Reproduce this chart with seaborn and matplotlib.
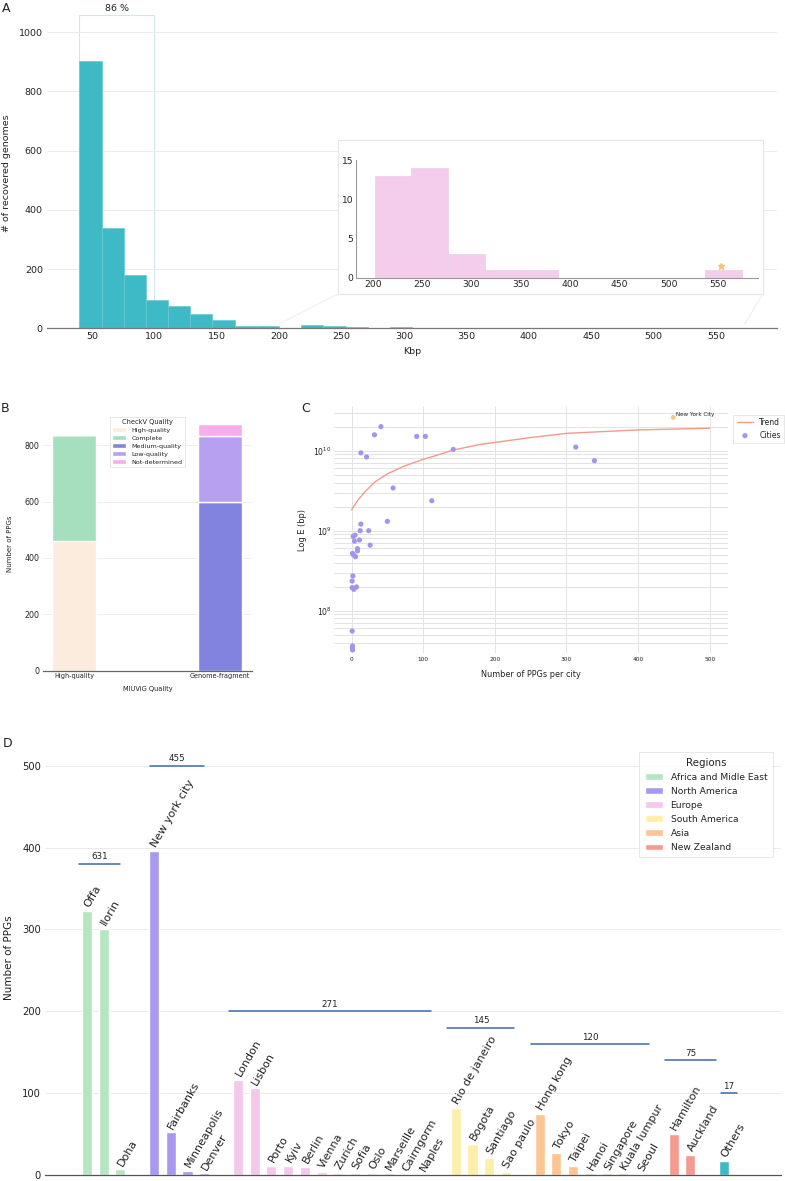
import numpy as np
import pandas as pd
import matplotlib
matplotlib.use("Agg")
import matplotlib.pyplot as plt
from matplotlib.patches import Patch, ConnectionPatch
from matplotlib.ticker import LogLocator, NullFormatter
import seaborn as sns

# ---------------- data ----------------
# A: length of recovered genomes (kbp), counts in 30 bins from shortest to longest
genome_kbp_min = 40
genome_kbp_max = 573
genome_bin_counts = [902, 339, 179, 96, 75, 47, 27, 9, 7, 2,
                     11, 8, 6, 0, 3, 1, 0, 1, 0, 0,
                     0, 0, 0, 0, 0, 0, 0, 0, 0, 1]
# inset: genomes above 200 kbp, 10 bins
large_kbp_min = 202
large_kbp_max = 574
large_bin_counts = [13, 14, 3, 1, 1, 0, 0, 0, 0, 1]
largest_genome_kbp = 553
largest_genome_mark = 1.5
share_range_kbp = [40, 100]
share_label = "86 %"

# B: MIUViG quality vs CheckV quality
miuvig_levels = ["High-quality", "Genome-fragment"]
checkv_levels = ["High-quality", "Complete", "Medium-quality", "Low-quality", "Not-determined"]
checkv_in_high_quality = [460, 378, 0, 0, 0]
checkv_in_fragment = [0, 0, 598, 236, 43]

# C: PPGs per city vs sequencing effort
city_ppgs = [41, 32, 91, 103, 13, 21, 142, 313, 339, 58, 112, 50, 13, 12, 24,
             5, 2.3, 11, 4, 26, 8.3, 8.3, 1.4, 2.8, 5.6, 1.9, 0.9, 0.9, 3.2,
             6.9, 0.9, 1.4, 1.4, 1.4]
city_bp = [2.0e10, 1.58e10, 1.51e10, 1.51e10, 9.4e9, 8.35e9, 1.04e10, 1.11e10,
           7.5e9, 3.42e9, 2.37e9, 1.31e9, 1.21e9, 1.0e9, 1.0e9, 8.8e8, 8.5e8,
           7.65e8, 7.4e8, 6.6e8, 5.96e8, 5.6e8, 5.2e8, 4.97e8, 4.73e8, 2.72e8,
           2.35e8, 1.94e8, 1.85e8, 1.98e8, 5.57e7, 3.62e7, 3.42e7, 3.23e7]
nyc_ppgs = 449
nyc_bp = 2.61e10
trend_ppgs = [0, 9, 19, 33, 51, 75, 100, 117, 142, 180, 250, 300, 400, 500]
trend_bp = [1.82e9, 2.42e9, 3.08e9, 4.1e9, 5.2e9, 6.5e9, 7.8e9, 8.66e9,
            1.02e10, 1.2e10, 1.46e10, 1.65e10, 1.82e10, 1.91e10]

# D: PPGs per city, grouped by region
region_names = ["Africa and Midle East", "North America", "Europe",
                "South America", "Asia", "New Zealand", "Others"]
region_cities = [
    ["Offa", "Ilorin", "Doha"],
    ["New york city", "Fairbanks", "Minneapolis", "Denver"],
    ["London", "Lisbon", "Porto", "Kyiv", "Berlin", "Vienna", "Zurich",
     "Sofia", "Oslo", "Marseille", "Cairngorm", "Naples"],
    ["Rio de janeiro", "Bogota", "Santiago", "Sao paulo"],
    ["Hong kong", "Tokyo", "Taipei", "Hanoi", "Singapore", "Kuala lumpur", "Seoul"],
    ["Hamilton", "Auckland"],
    ["Others"],
]
region_ppgs = [
    [323, 301, 7],
    [396, 52, 5, 2],
    [116, 106, 11, 11, 10, 4, 3, 3, 3, 2, 1, 1],
    [82, 38, 21, 4],
    [75, 27, 11, 2, 2, 2, 1],
    [50, 25],
    [17],
]

# ---------------- style ----------------
teal = "#3dbac6"
pink = "#f4cdec"
checkv_colors = ["#fbecdd", "#a6dfbd", "#8283de", "#b8a0f0", "#f7aeea"]
region_colors = ["#b4e6c2", "#a898ee", "#f4c7ec", "#fdeea8", "#fdc592", "#f49a8e", teal]
grid_c = "#ebebeb"
bracket_c = "#3b69ae"
# bracket level and span (bar slots) for each region total in D
bracket_level = [380, 500, 200, 180, 160, 140, 100]
bracket_span = [(-0.5, 2.0), (3.78, 7.0), (8.5, 20.5), (21.5, 25.5),
                (26.5, 33.5), (34.5, 37.5), (37.8, 38.8)]

sns.set_theme(style="white")
plt.rcParams["font.family"] = ["DejaVu Sans"]
plt.rcParams["text.color"] = "#222222"
plt.rcParams["axes.labelcolor"] = "#222222"
plt.rcParams["xtick.color"] = "#222222"
plt.rcParams["ytick.color"] = "#222222"

fig = plt.figure(figsize=(7.85, 11.81), dpi=100)


def clean(ax, spine_c="#777777"):
    for s in ["top", "right", "left"]:
        ax.spines[s].set_visible(False)
    ax.spines["bottom"].set_color(spine_c)
    ax.spines["bottom"].set_linewidth(0.9)
    ax.tick_params(length=0)
    ax.set_axisbelow(True)


def hist_bars(ax, lo, hi, counts, color, edge):
    # counts are already binned: draw them as adjacent bars over equal bins
    e = np.linspace(lo, hi, len(counts) + 1)
    ax.bar(e[:-1], counts, width=np.diff(e), align="edge", color=color,
           edgecolor=edge, linewidth=0.5)


# ---------------- A ----------------
axA = fig.add_axes([0.0599, 0.722, 0.930, 0.2632])
hist_bars(axA, genome_kbp_min, genome_kbp_max, genome_bin_counts, teal, "#67c8d1")
axA.set_xlim(14, 599)
axA.set_ylim(0, 1050)
axA.set_yticks([0, 200, 400, 600, 800, 1000])
axA.set_xticks(range(50, 551, 50))
axA.yaxis.grid(True, color=grid_c, lw=0.7)
clean(axA)
axA.tick_params(labelsize=6.8, pad=3)
axA.set_xlabel("Kbp", fontsize=6.8, labelpad=4)
axA.set_ylabel("# of recovered genomes", fontsize=6.8, labelpad=6)
lo, hi = share_range_kbp
axA.plot([lo, lo, hi, hi], [0, 1059, 1059, 0], color="#d3e3ef", lw=0.8,
         clip_on=False, zorder=0.5)
axA.text((lo + hi) / 2, 1080, share_label, ha="center", va="center", fontsize=6.8)

# inset frame + inset
frame = fig.add_axes([0.4306, 0.751, 0.5414, 0.1304])
frame.set_xticks([])
frame.set_yticks([])
for s in frame.spines.values():
    s.set_color("#e6e6e6")
    s.set_linewidth(0.8)

axI = fig.add_axes([0.4535, 0.7649, 0.5125, 0.0994])
hist_bars(axI, large_kbp_min, large_kbp_max, large_bin_counts, pink, "#ead0e6")
axI.plot([largest_genome_kbp], [largest_genome_mark], marker="*", ms=4.5,
         color="#f9c27a", ls="none")
axI.set_xlim(183, 591)
axI.set_ylim(0, 15)
axI.set_yticks([0, 5, 10, 15])
axI.set_xticks(range(200, 551, 50))
for s in ["top", "right"]:
    axI.spines[s].set_visible(False)
for s in ["left", "bottom"]:
    axI.spines[s].set_color("#999999")
    axI.spines[s].set_linewidth(0.8)
axI.tick_params(length=0, labelsize=6.6, pad=2)

for xa, xf in [(200, 0.0), (genome_kbp_max, 1.0)]:
    con = ConnectionPatch(xyA=(xa, 15), coordsA=axA.transData,
                          xyB=(xf, 0), coordsB=frame.transAxes,
                          color="#efefef", lw=0.8)
    fig.add_artist(con)

# ---------------- B ----------------
axB = fig.add_axes([0.0552, 0.4321, 0.2655, 0.2147])
bx = np.arange(len(miuvig_levels))
bottom = np.zeros(len(miuvig_levels))
for i, lvl in enumerate(checkv_levels):
    vals = np.array([checkv_in_high_quality[i], checkv_in_fragment[i]], dtype=float)
    axB.bar(bx, vals, bottom=bottom, width=0.3, color=checkv_colors[i], label=lvl)
    bottom += vals
axB.set_xlim(-0.21, 1.215)
axB.set_ylim(0, 900)
axB.set_xticks(bx)
axB.set_xticklabels(miuvig_levels)
axB.set_yticks([0, 200, 400, 600, 800])
axB.yaxis.grid(True, color=grid_c, lw=0.6)
clean(axB, "#666666")
axB.tick_params(axis="y", labelsize=5.7, pad=3)
axB.tick_params(axis="x", labelsize=4.7, pad=2)
axB.set_xlabel("MIUViG Quality", fontsize=4.8, labelpad=5)
axB.set_ylabel("Number of PPGs", fontsize=5.0, labelpad=8)
legB = axB.legend(title="CheckV Quality", loc="upper center",
                  bbox_to_anchor=(0.5, 1.015), fontsize=4.6, title_fontsize=4.8,
                  frameon=True, fancybox=False, edgecolor="#dddddd",
                  handlelength=2.2, handleheight=0.8, labelspacing=0.35,
                  borderpad=0.4)
legB.get_frame().set_linewidth(0.6)

# ---------------- C ----------------
axC = fig.add_axes([0.4259, 0.4471, 0.5011, 0.2091])
axC.set_yscale("log")
sns.lineplot(x=trend_ppgs, y=trend_bp, color="#f4998b", lw=1.0, ax=axC, label="Trend")
sns.scatterplot(x=city_ppgs, y=city_bp, color="#a394ef", s=14, edgecolor="none",
                ax=axC, label="Cities", zorder=3)
axC.scatter([nyc_ppgs], [nyc_bp], color="#fdc48a", s=12, edgecolor="none", zorder=3)
axC.text(nyc_ppgs + 4, nyc_bp, "New York City", fontsize=4.1, va="bottom", ha="left")
axC.set_xlim(-24, 525)
axC.set_ylim(2.96e7, 3.62e10)
axC.set_xticks(range(0, 501, 100))
axC.yaxis.set_minor_locator(LogLocator(base=10, subs=np.arange(2, 10)))
axC.yaxis.set_minor_formatter(NullFormatter())
axC.grid(which="major", axis="both", color="#e3e3e3", lw=0.7)
axC.grid(which="minor", axis="y", color="#e3e3e3", lw=0.7)
axC.set_axisbelow(True)
for s in axC.spines.values():
    s.set_visible(False)
axC.tick_params(which="both", length=0)
axC.tick_params(axis="x", labelsize=4.2, pad=3)
axC.tick_params(axis="y", labelsize=5.6, pad=2)
axC.set_xlabel("Number of PPGs per city", fontsize=5.9, labelpad=6)
axC.set_ylabel("Log E (bp)", fontsize=5.9, labelpad=4)
legC = axC.legend(loc="upper left", bbox_to_anchor=(1.005, 0.98), fontsize=5.5,
                  frameon=True, fancybox=False, edgecolor="#dddddd",
                  handlelength=2.2, borderpad=0.4, labelspacing=0.5)
legC.get_frame().set_linewidth(0.6)

# ---------------- D ----------------
axD = fig.add_axes([0.0573, 0.00508, 0.9376, 0.3674])
rows = []
slot = 0
for r, (cities, vals) in enumerate(zip(region_cities, region_ppgs)):
    for c, v in zip(cities, vals):
        rows.append({"region": region_names[r], "city": c, "ppgs": v, "slot": slot,
                     "color": region_colors[r]})
        slot += 1
    slot += 1
dfD = pd.DataFrame(rows)
axD.bar(dfD["slot"], dfD["ppgs"], width=0.6, color=dfD["color"])
for _, row in dfD.iterrows():
    axD.text(row["slot"], row["ppgs"] + 5, row["city"], rotation=60,
             rotation_mode="anchor", ha="left", va="center", fontsize=8)
for r, vals in enumerate(region_ppgs):
    x0, x1 = bracket_span[r]
    yb = bracket_level[r]
    axD.plot([x0, x1], [yb, yb], color=bracket_c, lw=1.1)
    axD.text((x0 + x1) / 2, yb + 3, str(sum(vals)), ha="center", va="bottom",
             fontsize=6.3)
axD.set_xlim(-2.5, 41.4)
axD.set_ylim(0, 530)
axD.set_xticks([])
axD.set_yticks([0, 100, 200, 300, 400, 500])
axD.yaxis.grid(True, color=grid_c, lw=0.7)
clean(axD, "#555555")
axD.tick_params(labelsize=7.2, pad=3)
axD.set_ylabel("Number of PPGs", fontsize=7.5, labelpad=6)
handles = [Patch(facecolor=region_colors[i], label=region_names[i])
           for i in range(len(region_names) - 1)]
legD = axD.legend(handles=handles, title="Regions", loc="upper right",
                  bbox_to_anchor=(0.995, 0.985), fontsize=6.6, title_fontsize=7.4,
                  frameon=True, fancybox=False, edgecolor="#dddddd",
                  handlelength=2.0, handleheight=0.7, labelspacing=0.55,
                  borderpad=0.6)
legD.get_frame().set_linewidth(0.6)

# panel letters
for lab, x, y in [("A", 2, 2), ("B", 1, 402), ("C", 301, 402), ("D", 3, 737)]:
    fig.text(x / 785, 1 - y / 1181, lab, fontsize=9, ha="left", va="top")

fig.savefig("out.png", dpi=100)
